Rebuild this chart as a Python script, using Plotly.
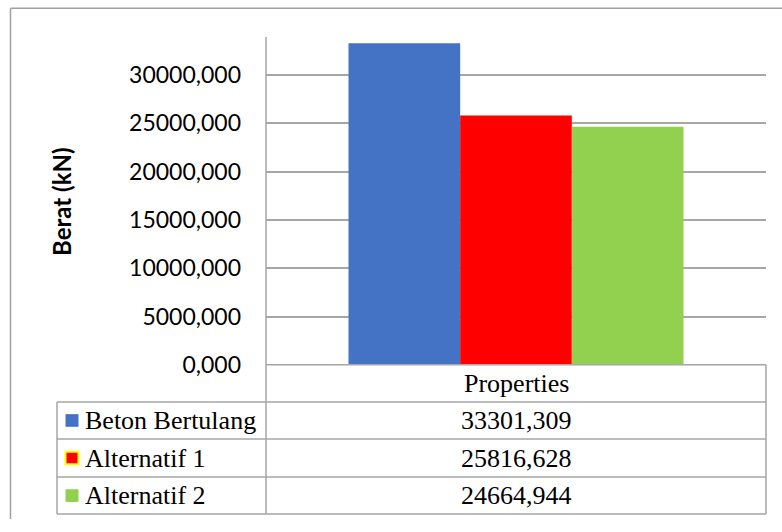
import plotly.graph_objects as go

# Data
category = ["Properties"]
series_names = ["Beton Bertulang", "Alternatif 1", "Alternatif 2"]
series_values = [33301.309, 25816.628, 24664.944]
series_colors = ["#4472C4", "#FF0000", "#92D050"]
key_outline = ["#4472C4", "#FFFF00", "#92D050"]
y_ticks = [0, 5000, 10000, 15000, 20000, 25000, 30000]
y_title = "Berat (kN)"

W, H = 782, 532


def px(x):
    return x / W


def py(y):
    return 1 - y / H


# plot area in pixels
PL, PR, PT, PB = 266, 766, 38, 374
ROWS = [374, 412, 450, 489, 527]   # table row boundaries
TL = 57                            # left edge of the legend column
GRID = "#A6A6A6"

fig = go.Figure()
for name, val, col in zip(series_names, series_values, series_colors):
    fig.add_trace(go.Bar(x=category, y=[val], name=name, marker_color=col,
                         marker_line_width=0, showlegend=False))

shapes = []


def line(x0, y0, x1, y1, color=GRID, width=1.5):
    shapes.append(dict(type="line", xref="paper", yref="paper",
                       x0=px(x0), y0=py(y0), x1=px(x1), y1=py(y1),
                       line=dict(color=color, width=width)))


# outer chart border
line(10.5, 8.5, W, 8.5, "#A0A0A0", 1.5)
line(10.5, 8.5, 10.5, H, "#A0A0A0", 1.5)

# value axis line continuing through the table
line(PL, PT, PL, ROWS[-1])
# data table grid
line(PL, ROWS[0], PR, ROWS[0])
for r in ROWS[1:]:
    line(TL, r, PR, r)
line(TL, ROWS[1], TL, ROWS[-1])
line(PR, ROWS[0], PR, ROWS[-1])

annotations = []
serif = dict(family="Liberation Serif", size=26, color="black")

annotations.append(dict(xref="paper", yref="paper", x=px((PL + PR) / 2),
                        y=py((ROWS[0] + ROWS[1]) / 2), text=category[0],
                        showarrow=False, font=serif, xanchor="center", yanchor="middle"))

for i, (name, val, col, oc) in enumerate(zip(series_names, series_values,
                                              series_colors, key_outline)):
    yc = (ROWS[i + 1] + ROWS[i + 2]) / 2
    shapes.append(dict(type="rect", xref="paper", yref="paper",
                       x0=px(65.5), x1=px(78.5), y0=py(yc - 6.5), y1=py(yc + 6.5),
                       fillcolor=col, line=dict(color=oc, width=2 if oc != col else 0)))
    annotations.append(dict(xref="paper", yref="paper", x=px(83), y=py(yc),
                            text=name, showarrow=False, font=serif,
                            xanchor="left", yanchor="middle"))
    annotations.append(dict(xref="paper", yref="paper", x=px((PL + PR) / 2), y=py(yc),
                            text=f"{val:.3f}".replace(".", ","), showarrow=False,
                            font=serif, xanchor="center", yanchor="middle"))

# rotated value-axis title
annotations.append(dict(xref="paper", yref="paper", x=px(62), y=py(207),
                        text=f"<b>{y_title}</b>", textangle=-90, showarrow=False,
                        font=dict(family="Lato", size=24, color="black"),
                        xanchor="center", yanchor="middle"))

fig.update_layout(
    width=W, height=H,
    margin=dict(l=0, r=0, t=0, b=0),
    paper_bgcolor="white", plot_bgcolor="white",
    separators=",.",
    barmode="group", bargap=0.33, bargroupgap=0,
    shapes=shapes, annotations=annotations,
    xaxis=dict(domain=[px(PL), px(PR)], range=[-0.5, 0.5],
               showticklabels=False, showgrid=False, zeroline=False,
               showline=False, ticks=""),
    yaxis=dict(domain=[py(PB), py(PT)], range=[0, 33940],
               tickvals=y_ticks, tickformat=".3f",
               showgrid=True, gridcolor=GRID, gridwidth=1.5,
               zeroline=False, showline=False, ticks="",
               ticklabelstandoff=24,
               tickfont=dict(family="Lato", size=23, color="black")),
)

fig.write_html("out.html")
